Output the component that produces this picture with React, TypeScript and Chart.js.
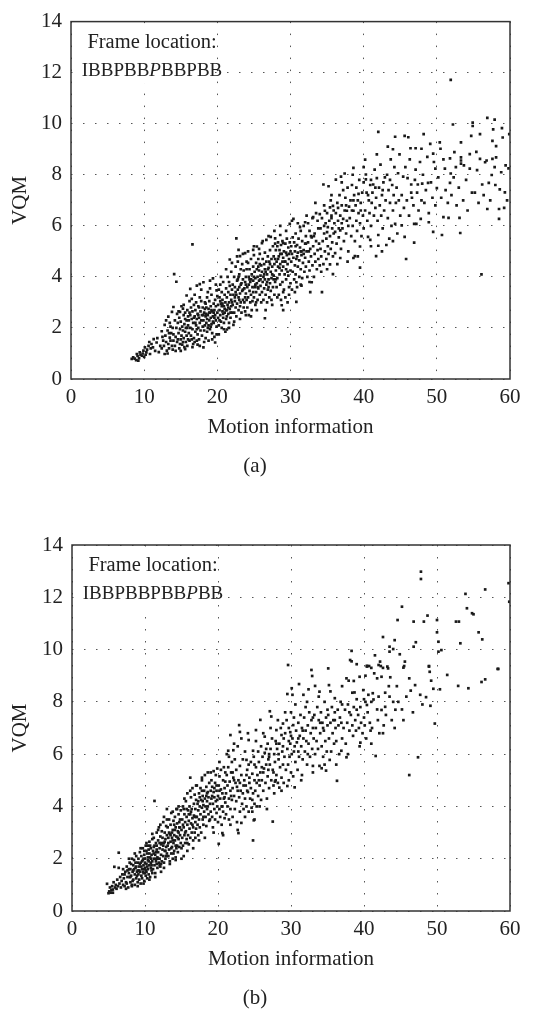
import React, { useEffect, useRef } from "react";
import { Chart, registerables } from "chart.js";

Chart.register(...registerables);

// ---------- text ----------
const xTicks = [0, 10, 20, 30, 40, 50, 60];
const yTicks = [0, 2, 4, 6, 8, 10, 12, 14];
const xTitle = "Motion information";
const yTitle = "VQM";
const boxTitle = "Frame location:";
const frameSeqA = ["IBBPBB", "P", "BBPBB"]; // middle part italic
const frameSeqB = ["IBBPBBPBB", "P", "BB"];
const captionA = "(a)";
const captionB = "(b)";

// ---------- panel (a) points: [motion, VQM] ----------
const aLowMotion: [number, number][] = [
  [8.3,0.79],[8.5,0.85],[9.0,0.98],[9.2,0.72],[9.4,1.04],[9.7,0.91],[9.9,1.11],[10.1,1.24],[10.3,1.04],[10.6,1.3],[10.8,0.98],[11.0,1.37],[11.2,1.24],[11.3,1.56],[11.7,1.43],[12.2,1.3],
  [8.7,0.8],[9.1,0.9],[9.5,0.95],[9.8,1.0],[10.0,0.87],[10.4,1.15],[10.9,1.2],[11.5,1.1],[12.0,1.05],[8.9,0.74],[9.3,0.82],[10.2,0.95],[10.7,1.45],[11.8,1.6],[12.4,1.2],
  [12.8,0.98],[13.1,1.11],[13.3,1.37],[13.8,1.3],[14.0,1.5],[12.4,1.87],[12.8,2.12],[13.3,2.44],[13.8,2.63],[14.0,2.82],
  [12.6,1.5],[12.9,1.7],[13.0,1.45],[13.2,1.9],[13.4,1.2],[13.5,1.62],[13.6,2.05],[13.7,1.8],[13.9,1.15],[13.0,2.3],[12.7,1.3],[13.5,2.2],[13.9,2.0],[12.5,1.65],[13.2,1.0],[13.6,1.5],[14.0,1.75],[13.4,1.8],
  [14.9,2.63],[15.3,2.76],[15.6,1.17],[14.9,1.37],[14.1,4.11],[14.4,3.81],
  [14.2,1.3],[14.3,1.65],[14.4,2.0],[14.5,1.45],[14.6,2.2],[14.7,1.8],[14.8,1.2],[14.8,2.4],[14.9,1.95],[15.0,1.55],[15.0,2.25],[15.1,1.7],[15.2,2.05],[15.2,1.35],[15.3,1.9],[15.4,2.5],[15.4,1.6],[15.5,2.15],[15.6,1.85],[15.6,2.6],[15.7,1.45],[15.8,2.3],[15.8,1.7],[15.9,2.0],[16.0,2.45],[16.0,1.55],[14.5,2.55],[14.3,1.1],[15.1,2.85],[15.5,1.25],[15.9,2.7],[14.6,1.55],[15.7,2.0],[15.3,1.45],
  [15.8,3.27],[16.3,3.53],[16.5,3.14],[17.2,3.66],[17.6,3.72],[16.7,1.37],[17.6,1.3],[18.1,1.24],[17.2,1.5],[16.6,5.27],
  [16.1,1.8],[16.1,2.3],[16.2,2.6],[16.2,1.5],[16.3,2.0],[16.4,2.8],[16.4,1.7],[16.5,2.35],[16.6,1.95],[16.6,2.65],[16.7,2.2],[16.8,1.6],[16.8,2.9],[16.9,2.45],[17.0,1.85],[17.0,2.7],[17.1,2.1],[17.1,3.0],[17.2,2.35],[17.3,1.75],[17.3,2.55],[17.4,2.0],[17.4,2.85],[17.5,1.55],[17.5,2.4],[17.6,2.2],[17.7,2.65],[17.7,1.9],[17.8,3.05],[17.8,2.3],[17.9,1.7],[17.9,2.5],[18.0,2.8],[18.0,2.05],[16.9,1.45],[16.3,2.5],[17.6,3.2],[17.0,2.2],[16.5,1.55],[17.4,2.5],
  [18.1,3.79],[19.0,3.85],[19.4,3.94],[19.9,3.47],[19.7,1.43],[19.9,1.75],
  [18.1,2.3],[18.2,1.9],[18.2,2.6],[18.3,2.1],[18.3,3.0],[18.4,1.6],[18.4,2.45],[18.5,2.8],[18.5,2.2],[18.6,1.85],[18.6,3.2],[18.7,2.5],[18.7,2.0],[18.8,2.75],[18.8,1.5],[18.9,2.3],[18.9,3.05],[19.0,2.6],[19.0,1.95],[19.1,2.4],[19.1,2.85],[19.2,2.15],[19.2,3.3],[19.3,2.65],[19.3,1.8],[19.4,2.45],[19.5,2.95],[19.5,2.2],[19.6,2.7],[19.6,1.65],[19.7,2.5],[19.7,3.1],[19.8,2.3],[19.8,2.85],[19.9,2.05],[20.0,2.6],[20.0,3.25],[18.5,2.55],[19.2,2.7],[18.9,2.6],[19.6,2.4],[18.3,2.75],[19.4,2.25],[18.7,3.4],
  [14.2,2.3],[14.7,2.65],[15.0,1.1],[15.4,2.9],[15.9,1.3],[16.2,3.05],[16.6,1.25],[16.9,3.3],[17.3,1.35],[17.8,3.5],[18.2,1.45],[18.6,2.35],[19.0,3.55],[19.3,1.55],[19.8,3.7],[16.0,2.1],[16.8,2.4],[17.5,2.8],[18.1,2.5],[18.8,2.1],[19.5,2.6],[17.2,1.95],[15.6,2.35],[18.4,2.95],[19.1,2.05],
];

const aMidMotion: [number, number][] = [
  [21.3,1.94],[21.7,4.68],[20.1,2.4],[20.1,2.9],[20.2,3.5],[20.2,2.1],[20.3,2.7],[20.3,3.2],[20.4,2.5],[20.4,3.7],[20.5,2.25],[20.5,2.95],[20.6,3.4],[20.6,2.0],[20.7,2.65],[20.7,3.1],[20.8,2.4],[20.8,3.8],[20.9,2.85],[20.9,2.2],[21.0,3.3],[21.0,2.6],[21.1,3.0],[21.1,1.85],[21.2,2.7],[21.2,3.55],[21.3,2.45],[21.3,3.2],[21.4,2.9],[21.4,4.0],[21.5,2.55],[21.5,3.4],[21.6,2.2],[21.6,3.0],[21.7,2.75],[21.7,3.65],[21.8,2.4],[21.8,3.3],[21.9,2.85],[21.9,4.2],[22.0,2.6],[22.0,3.5],[20.3,2.3],[21.0,2.75],[21.5,2.8],[20.8,2.55],[21.8,2.6],[20.6,2.85],[21.2,2.35],[22.0,3.0],
  [22.2,2.12],[22.9,5.06],[23.1,4.81],[23.8,4.93],[22.6,5.51],
  [22.1,2.9],[22.1,3.7],[22.2,3.3],[22.3,2.6],[22.3,4.0],[22.4,3.05],[22.4,3.6],[22.5,2.8],[22.5,4.4],[22.6,3.3],[22.6,2.45],[22.7,3.85],[22.7,2.95],[22.8,3.5],[22.8,4.6],[22.9,2.7],[22.9,3.2],[23.0,4.1],[23.0,3.6],[23.1,2.85],[23.1,3.35],[23.2,4.3],[23.2,3.0],[23.3,3.75],[23.3,2.6],[23.4,3.45],[23.4,4.5],[23.5,3.1],[23.5,3.9],[23.6,2.8],[23.6,4.25],[23.7,3.55],[23.7,3.0],[23.8,3.8],[23.8,2.65],[23.9,4.0],[23.9,3.35],[24.0,4.6],[24.0,3.1],[22.4,3.2],[23.0,3.1],[23.5,3.5],[22.8,3.9],[23.9,3.7],
  [24.2,4.55],[24.9,5.06],[25.4,5.19],[24.1,2.8],[24.1,3.6],[24.2,3.2],[24.3,4.0],[24.3,2.5],[24.4,3.45],[24.4,4.3],[24.5,3.0],[24.5,3.8],[24.6,4.7],[24.6,3.3],[24.7,2.7],[24.7,4.1],[24.8,3.6],[24.8,3.05],[24.9,4.4],[24.9,3.85],[25.0,3.2],[25.0,4.85],[25.1,3.6],[25.1,4.2],[25.2,2.9],[25.2,3.95],[25.3,4.55],[25.3,3.4],[25.4,3.75],[25.4,4.3],[25.5,3.1],[25.5,4.0],[25.6,4.7],[25.6,3.55],[25.7,3.85],[25.7,4.25],[25.8,3.3],[25.8,4.9],[25.9,4.05],[25.9,3.65],[26.0,4.45],[26.0,3.0],[24.6,3.9],[25.2,3.7],[25.8,4.5],[24.9,3.4],[25.5,3.6],[25.9,3.9],[24.3,3.7],
  [26.1,5.32],[26.7,5.45],[27.3,5.57],[27.9,5.51],[26.5,2.38],
  [26.1,3.4],[26.1,4.2],[26.2,3.8],[26.2,4.7],[26.3,3.1],[26.3,4.0],[26.4,4.5],[26.4,3.55],[26.5,3.9],[26.5,4.95],[26.6,4.2],[26.6,3.3],[26.7,3.7],[26.7,4.6],[26.8,3.0],[26.8,4.1],[26.9,3.5],[26.9,4.8],[27.0,3.9],[27.0,4.35],[27.1,3.2],[27.1,4.6],[27.2,3.75],[27.2,5.05],[27.3,4.2],[27.3,3.45],[27.4,3.95],[27.4,4.7],[27.5,2.9],[27.5,4.4],[27.6,3.6],[27.6,5.2],[27.7,4.05],[27.7,4.8],[27.8,3.3],[27.8,4.5],[27.9,5.3],[27.9,3.8],[28.0,4.25],[28.0,5.05],[26.4,4.1],[27.0,3.6],[27.5,4.1],[26.9,4.3],[27.7,3.9],
  [28.6,5.64],[29.0,5.32],[29.9,6.08],[28.8,2.89],[29.0,2.7],
  [28.1,3.6],[28.1,4.6],[28.2,5.2],[28.2,3.95],[28.3,4.4],[28.3,5.35],[28.4,3.3],[28.4,4.8],[28.5,4.1],[28.5,5.05],[28.6,3.7],[28.6,4.5],[28.7,5.25],[28.7,3.1],[28.8,4.25],[28.8,4.9],[28.9,3.8],[28.9,5.4],[29.0,4.4],[29.0,4.75],[29.1,3.5],[29.1,5.0],[29.2,4.1],[29.2,4.6],[29.3,3.2],[29.3,5.3],[29.4,4.3],[29.4,3.9],[29.5,4.85],[29.5,5.5],[29.6,3.0],[29.6,4.5],[29.7,4.05],[29.7,5.15],[29.8,3.6],[29.8,4.7],[29.9,5.35],[30.0,4.25],[30.0,3.75],[28.3,4.7],[28.9,4.6],[29.4,4.95],[28.5,4.35],[29.8,4.9],
  [30.4,6.27],[31.3,5.95],[32.0,6.14],[30.8,3.79],[31.5,3.66],[30.8,3.02],
  [30.1,4.6],[30.1,5.2],[30.2,3.5],[30.2,4.9],[30.3,5.55],[30.3,4.2],[30.4,4.75],[30.5,3.9],[30.5,5.35],[30.6,4.45],[30.6,5.0],[30.7,5.7],[30.7,4.1],[30.8,4.7],[30.9,5.25],[30.9,3.6],[31.0,4.95],[31.0,4.4],[31.1,5.5],[31.2,4.0],[31.2,4.65],[31.3,5.15],[31.4,4.3],[31.4,5.8],[31.5,4.85],[31.6,5.4],[31.6,3.95],[31.7,4.55],[31.8,5.05],[31.8,6.0],[31.9,4.2],[32.0,5.3],[32.0,4.75],[30.9,4.8],[31.5,5.0],
  [32.9,3.79],[32.7,3.4],[33.1,6.34],[34.0,6.46],[34.3,3.4],
  [32.1,4.4],[32.1,5.6],[32.2,5.0],[32.3,4.0],[32.4,5.35],[32.4,6.1],[32.5,4.6],[32.6,5.8],[32.6,4.25],[32.7,5.1],[32.8,4.8],[32.9,5.55],[33.0,4.45],[33.0,6.3],[33.1,5.2],[33.2,4.0],[33.3,4.9],[33.3,5.7],[33.4,4.6],[33.5,5.4],[33.5,6.5],[33.6,4.3],[33.7,5.05],[33.8,5.9],[33.8,4.7],[33.9,5.3],[34.0,4.45],[32.5,5.0],[33.2,5.6],[33.7,6.2],
  [34.7,6.59],[35.4,6.72],[35.8,6.78],[34.5,7.62],[35.2,7.55],[35.4,4.49],[35.8,4.11],
  [34.1,5.1],[34.1,5.9],[34.2,4.8],[34.3,6.3],[34.4,5.4],[34.5,4.5],[34.6,5.7],[34.6,6.8],[34.7,5.0],[34.8,6.1],[34.9,4.7],[34.9,5.5],[35.0,6.5],[35.1,5.2],[35.1,5.95],[35.2,4.9],[35.3,6.2],[35.4,5.6],[35.5,7.0],[35.5,5.1],[35.6,6.4],[35.7,5.35],[35.7,5.9],[35.8,4.8],[35.9,6.6],[35.9,5.7],[36.0,6.1],[35.0,5.75],
  [20.2,1.75],[20.5,4.0],[20.9,1.95],[21.2,4.3],[21.6,2.0],[22.0,4.55],[22.3,2.25],[22.7,4.8],[23.1,2.35],[23.5,4.9],[23.9,2.5],[24.2,5.0],[24.6,2.45],[25.0,5.2],[25.4,2.7],[25.7,5.1],[20.7,2.95],[21.3,2.7],[21.9,3.1],[22.5,3.4],[23.2,3.7],[23.8,3.2],[24.4,3.9],[25.0,4.0],[25.6,4.4],[24.0,4.3],[22.9,4.0],[21.6,3.8],[20.4,3.05],[25.3,3.0],
  [26.2,5.4],[26.6,2.7],[27.0,5.6],[27.4,3.1],[27.8,5.8],[28.2,3.2],[28.6,6.0],[29.0,3.4],[29.4,5.8],[29.8,3.3],[30.2,6.2],[30.6,3.4],[31.0,6.1],[31.4,3.7],[31.8,4.9],[32.2,6.4],[32.6,3.8],[26.5,4.3],[27.2,4.5],[27.9,4.7],[28.6,4.9],[29.3,4.6],[30.0,5.0],[30.7,5.2],[31.4,5.0],[32.1,5.3],[32.8,5.6],[26.8,3.8],[28.0,3.9],[29.6,4.2],
  [33.4,6.9],[34.2,4.2],[35.0,4.3],[35.6,7.2],[34.6,6.0],[35.6,6.3],
];

const aHighMotion: [number, number][] = [
  [36.1,5.76],[36.8,5.82],[37.2,6.27],[37.7,6.59],[36.8,4.74],[36.1,4.93],[37.9,5.0],[36.2,7.81],[37.4,8.05],[36.9,7.93],
  [36.2,6.5],[36.3,5.3],[36.4,6.9],[36.5,6.2],[36.6,5.55],[36.7,7.2],[36.8,6.4],[36.9,5.1],[37.0,6.8],[37.1,5.9],[37.2,7.4],[37.3,5.4],[37.4,6.6],[37.5,7.1],[37.6,5.7],[37.7,6.2],[37.8,7.5],[37.9,6.0],[38.0,6.75],[37.0,6.1],[36.5,6.7],
  [38.6,6.59],[38.6,4.74],[38.8,4.81],[39.5,5.19],[39.5,4.36],[38.6,8.27],[40.2,8.59],
  [38.1,6.3],[38.2,7.0],[38.3,5.6],[38.4,7.6],[38.5,6.0],[38.7,7.2],[38.8,5.4],[38.9,6.8],[39.0,7.5],[39.0,6.2],[39.1,5.8],[39.2,7.0],[39.3,6.5],[39.4,7.8],[39.5,6.1],[39.6,6.9],[39.7,5.6],[39.8,7.3],[39.9,6.4],[40.0,7.7],[40.0,5.9],[38.4,6.6],[39.3,7.25],
  [40.6,5.57],[40.9,5.45],[41.7,4.81],[42.0,5.22],[42.0,5.64],[43.1,5.25],[44.3,6.08],[45.2,6.02],[42.0,9.68],[44.3,9.49],
  [40.3,8.01],[40.3,7.82],[41.8,7.87],[41.3,7.62],[44.7,8.06],
  [40.2,6.6],[40.4,7.3],[40.5,6.2],[40.7,7.0],[40.8,6.5],[40.9,7.6],[41.0,6.0],[41.1,6.9],[41.2,7.3],[41.4,6.4],[41.5,8.2],[41.6,6.7],[41.7,7.1],[41.9,6.2],[42.1,7.5],[42.2,6.8],[42.3,8.4],[42.4,6.4],[42.5,7.2],[42.6,5.9],[42.7,7.7],[42.8,6.6],[43.0,7.0],[43.2,8.0],[43.3,6.3],[43.4,7.4],[43.6,6.9],[43.7,8.6],[43.8,6.0],[43.9,7.6],[44.0,6.6],[44.1,7.2],[44.2,8.3],[44.4,6.9],[44.5,7.5],[44.6,5.7],[44.8,7.0],[44.9,8.8],[45.0,6.4],[41.0,7.8],[42.9,7.9],[43.5,5.5],[44.0,9.0],
  [45.6,9.52],[46.1,9.47],[48.2,9.59],[46.4,9.04],[47.1,9.04],[47.9,9.02],[49.1,9.21],[49.5,8.83],[45.4,7.93],[46.0,7.87],[47.0,7.8],[46.5,7.62],[47.4,7.62],[48.8,7.68],[49.8,8.24],[45.6,5.57],[46.9,6.08],[47.2,6.08],[47.8,6.27],[46.9,5.34],[48.9,6.14],[49.5,5.76],[45.8,4.7],
  [45.2,7.2],[45.5,6.7],[45.7,8.3],[45.9,7.0],[46.2,6.4],[46.3,8.6],[46.6,7.1],[46.8,6.8],[47.1,8.2],[47.3,7.3],[47.5,6.6],[47.7,8.5],[47.9,7.0],[48.1,8.0],[48.3,6.9],[48.5,7.4],[48.7,8.7],[48.9,6.5],[49.2,7.7],[49.4,7.1],[49.6,8.5],[49.8,6.8],[50.0,7.48],[48.0,7.65],[46.5,7.3],
  [50.4,9.27],[50.5,9.02],[51.9,11.72],[52.2,9.97],[52.4,8.89],[53.3,9.27],[54.9,10.04],[54.9,9.91],[54.7,9.52],[51.8,8.64],[53.3,8.68],[54.5,8.81],[51.1,8.24],[53.3,8.44],[54.5,8.24],[51.9,8.05],[51.8,7.68],[53.3,8.56],[53.7,8.37],[53.1,6.31],[53.2,5.72],[50.9,6.34],[51.6,6.31],[50.7,5.64],
  [50.2,7.9],[50.6,7.1],[50.9,8.6],[51.2,7.4],[51.5,6.9],[52.0,7.2],[52.3,7.9],[52.7,6.8],[53.0,7.5],[53.6,7.0],[54.0,7.8],[54.2,6.6],[54.8,7.3],[52.6,8.3],
  [55.5,8.18],[55.9,9.59],[56.9,10.23],[57.9,10.16],[57.7,9.78],[57.6,9.33],[58.9,9.83],[59.9,9.59],[59.0,9.46],[55.9,8.62],[56.6,8.49],[58.1,9.12],[58.1,8.68],[59.4,8.37],[56.8,8.56],[57.6,8.62],[57.5,7.99],[57.1,7.68],[56.2,7.62],[58.6,7.43],[59.3,7.31],[58.5,6.27],[58.5,6.66],[56.9,6.66],[56.1,4.1],
  [55.2,7.3],[55.7,6.9],[56.4,7.2],[57.3,7.0],[58.0,7.6],[58.8,8.1],[59.6,7.0],[59.8,8.25],[55.4,8.9],[57.9,8.3],[59.2,6.7],
  [36.4,4.5],[37.0,7.7],[37.8,4.6],[38.5,8.0],[39.2,4.8],[40.0,8.3],[41.0,5.2],[41.8,8.8],[42.5,5.0],[43.3,9.1],[44.0,5.4],[36.6,5.9],[37.6,6.8],[38.6,7.0],[39.6,6.6],[40.6,7.2],[41.6,7.5],[42.6,7.4],[43.6,7.8],
];

// ---------- panel (b) points: [motion, VQM] ----------
const bLowMotion: [number, number][] = [
  [4.8,1.04],[5.0,0.68],[5.4,0.8],[5.8,1.69],[6.4,2.23],
  [5.1,0.75],[5.2,0.9],[5.3,0.7],[5.5,0.95],[5.6,0.82],[5.7,1.1],[5.9,0.9],[6.0,1.0],[6.1,0.85],[6.2,1.2],[6.3,0.95],[6.5,1.05],[6.6,1.3],[6.7,0.9],[6.8,1.15],[6.9,1.4],[7.0,1.0],[6.4,1.65],[5.6,0.7],
  [7.1,1.25],[7.2,0.95],[7.3,1.5],[7.4,1.1],[7.5,1.7],[7.6,1.3],[7.7,0.9],[7.8,1.45],[7.9,1.85],[8.0,1.1],[8.0,1.6],[8.1,1.35],[8.2,2.0],[8.2,0.95],[8.3,1.5],[8.4,1.75],[8.4,1.2],[8.5,1.95],[8.6,1.4],[8.6,1.0],[8.7,1.65],[8.8,2.1],[8.8,1.25],[8.9,1.5],[9.0,1.85],[9.0,1.1],[7.5,1.05],[7.9,1.3],[8.3,1.15],[8.7,1.85],[8.9,1.35],[7.2,1.4],[7.8,1.6],[8.5,1.6],[9.0,1.55],[8.1,1.8],[7.6,1.55],
  [9.1,1.4],[9.1,2.0],[9.2,1.2],[9.2,1.7],[9.3,2.25],[9.3,1.5],[9.4,1.05],[9.4,1.85],[9.5,1.35],[9.5,2.1],[9.6,1.6],[9.6,1.25],[9.7,1.95],[9.7,2.4],[9.8,1.45],[9.8,1.75],[9.9,2.15],[9.9,1.15],[10.0,1.65],[10.0,2.0],[10.1,1.35],[10.1,2.5],[10.2,1.8],[10.2,1.5],[10.3,2.2],[10.3,1.25],[10.4,1.95],[10.4,1.6],[10.5,2.35],[10.5,1.4],[10.6,1.75],[10.6,2.65],[10.7,2.05],[10.7,1.3],[10.8,1.85],[10.8,2.4],[10.9,1.55],[10.9,2.15],[11.0,1.9],[11.0,2.75],[9.5,1.7],[10.0,1.85],[10.5,1.9],[9.8,2.0],[10.3,1.7],[10.8,2.0],[9.3,1.8],[10.1,1.55],[10.6,2.2],[9.7,1.5],[10.9,1.75],[10.2,2.3],[9.9,1.6],[10.4,2.5],[11.0,1.45],
  [11.3,4.21],[11.1,1.6],[11.1,2.3],[11.2,2.0],[11.2,2.8],[11.3,1.75],[11.3,2.5],[11.4,2.15],[11.4,1.45],[11.5,2.6],[11.5,1.9],[11.6,2.35],[11.6,3.0],[11.7,2.05],[11.7,1.65],[11.8,2.7],[11.8,2.25],[11.9,1.85],[11.9,3.2],[12.0,2.4],[12.0,2.0],[12.1,2.85],[12.1,1.7],[12.2,2.55],[12.2,2.15],[12.3,3.05],[12.3,1.9],[12.4,2.35],[12.4,2.8],[12.5,2.1],[12.5,3.4],[12.6,2.6],[12.6,1.85],[12.7,2.3],[12.7,3.0],[12.8,2.75],[12.8,2.0],[12.9,2.45],[12.9,3.25],[13.0,2.2],[13.0,2.9],[11.5,2.25],[12.0,2.6],[12.5,2.5],[11.8,2.0],[12.2,1.8],[12.7,2.65],[11.2,2.45],[12.9,2.1],[12.3,2.6],[11.6,1.8],[12.6,3.6],[13.0,3.9],[12.1,3.3],
  [13.1,2.5],[13.1,3.2],[13.2,2.1],[13.2,2.8],[13.3,3.5],[13.3,2.35],[13.4,2.95],[13.4,1.9],[13.5,2.65],[13.5,3.3],[13.6,2.2],[13.6,3.75],[13.7,2.8],[13.7,2.45],[13.8,3.1],[13.8,2.0],[13.9,3.45],[13.9,2.6],[14.0,2.9],[14.0,2.3],[14.1,3.6],[14.1,2.7],[14.2,3.2],[14.2,2.05],[14.3,2.85],[14.3,3.9],[14.4,2.5],[14.4,3.35],[14.5,3.05],[14.5,2.25],[14.6,3.7],[14.6,2.75],[14.7,3.2],[14.7,2.45],[14.8,3.5],[14.8,2.9],[14.9,2.6],[14.9,3.85],[15.0,3.1],[15.0,2.4],[13.5,2.9],[14.0,3.3],[14.5,2.8],[13.8,2.7],[14.2,2.5],[14.8,3.2],[13.3,3.0],[14.6,3.0],[13.9,2.2],[14.4,3.9],
  [7.0,1.6],[7.4,0.85],[7.8,2.0],[8.2,1.0],[8.6,2.2],[9.0,0.95],[9.4,2.4],[9.8,1.05],[10.2,2.6],[10.6,1.2],[11.0,2.95],[11.4,1.3],[11.8,3.1],[12.2,1.5],[9.2,1.55],[9.6,1.9],[10.0,1.45],[10.4,2.05],[10.8,1.65],[11.2,2.2],[11.6,2.5],[12.0,1.75],[8.0,1.3],[8.4,1.55],[8.8,1.7],[9.9,2.3],[10.7,2.5],[11.5,2.0],
  [12.6,1.65],[13.0,3.5],[13.4,1.8],[13.8,3.8],[14.2,1.95],[14.6,4.0],[13.2,2.6],[13.7,3.0],[14.1,3.1],[14.7,3.4],[12.8,2.3],[13.6,2.4],[14.3,2.4],
];

const bMidMotion: [number, number][] = [
  [15.1,2.8],[15.1,3.5],[15.2,4.0],[15.2,2.5],[15.3,3.2],[15.3,2.1],[15.4,3.7],[15.4,2.9],[15.5,3.4],[15.5,2.6],[15.6,4.2],[15.6,3.05],[15.7,2.75],[15.7,3.6],[15.8,3.3],[15.8,4.5],[15.9,2.9],[15.9,3.85],[16.0,3.45],[16.0,2.55],[16.1,4.0],[16.1,3.15],[16.2,3.7],[16.2,2.8],[16.3,4.35],[16.3,3.35],[16.4,3.0],[16.4,3.9],[16.5,3.55],[16.5,4.7],[16.6,3.2],[16.6,2.7],[16.7,4.1],[16.7,3.65],[16.8,3.0],[16.8,4.45],[16.9,3.4],[16.9,3.9],[17.0,3.15],[17.0,4.25],[15.5,3.0],[16.0,3.7],[16.5,3.3],[16.9,2.8],[15.8,2.6],[16.2,5.1],[17.0,3.6],[15.3,3.9],
  [17.1,3.6],[17.1,4.8],[17.2,3.3],[17.2,4.1],[17.3,2.9],[17.3,3.85],[17.4,4.5],[17.4,3.5],[17.5,4.0],[17.5,3.2],[17.6,4.7],[17.6,3.7],[17.7,4.25],[17.7,3.0],[17.8,3.95],[17.8,5.0],[17.9,3.5],[17.9,4.4],[18.0,4.05],[18.0,3.3],[18.1,4.6],[18.1,3.8],[18.2,4.3],[18.2,5.2],[18.3,3.6],[18.3,4.0],[18.4,4.75],[18.4,3.25],[18.5,4.2],[18.5,3.9],[18.6,4.55],[18.6,5.3],[18.7,3.7],[18.7,4.35],[18.8,4.9],[18.8,3.45],[18.9,4.1],[19.0,4.6],[19.0,3.8],[17.5,4.35],[18.0,3.6],[18.5,4.5],[17.8,4.6],[18.9,3.5],
  [20.1,2.57],[20.6,2.98],[19.1,4.3],[19.1,5.0],[19.2,3.6],[19.2,4.75],[19.3,4.1],[19.3,3.2],[19.4,4.55],[19.4,5.35],[19.5,3.9],[19.5,4.35],[19.6,3.5],[19.6,4.9],[19.7,4.2],[19.7,5.2],[19.8,3.75],[19.8,4.6],[19.9,4.0],[19.9,5.45],[20.0,4.4],[20.0,3.4],[20.1,4.8],[20.2,3.9],[20.2,5.15],[20.3,4.3],[20.3,3.6],[20.4,4.65],[20.4,5.4],[20.5,4.0],[20.5,3.3],[20.6,4.5],[20.7,5.0],[20.7,3.8],[20.8,4.3],[20.8,5.5],[20.9,4.7],[20.9,3.55],[21.0,4.15],[21.0,4.95],[19.5,4.7],[20.2,4.6],[20.6,4.0],[19.9,4.25],[20.9,4.35],
  [21.7,6.73],[22.9,7.11],[23.0,6.85],[22.1,6.15],[21.4,6.13],[22.8,2.98],
  [21.1,4.5],[21.1,3.7],[21.2,5.2],[21.3,4.0],[21.3,4.8],[21.4,5.5],[21.5,4.3],[21.5,3.5],[21.6,4.95],[21.7,4.6],[21.7,3.9],[21.8,5.3],[21.9,4.25],[21.9,5.7],[22.0,4.7],[22.0,3.6],[22.1,5.1],[22.2,4.4],[22.3,5.8],[22.3,3.9],[22.4,4.9],[22.5,4.2],[22.5,5.4],[22.6,3.4],[22.7,4.6],[22.7,6.3],[22.8,5.0],[22.9,4.35],[23.0,5.55],[23.0,3.8],[21.5,5.9],[22.2,5.0],[22.6,4.75],[21.8,4.4],
  [24.2,6.54],[23.9,5.78],[24.8,6.13],[24.8,2.7],[24.9,3.47],[23.2,3.37],
  [23.1,4.6],[23.2,5.2],[23.3,4.1],[23.4,5.8],[23.4,4.5],[23.5,3.9],[23.6,5.0],[23.7,4.3],[23.7,6.1],[23.8,4.8],[23.9,4.0],[24.0,5.4],[24.1,4.55],[24.1,6.8],[24.2,3.8],[24.3,5.1],[24.4,4.3],[24.5,5.7],[24.5,4.7],[24.6,3.95],[24.7,5.25],[24.8,4.5],[24.9,5.9],[25.0,4.1],[25.0,5.0],[23.5,4.8],[24.3,4.9],[23.9,5.2],[24.7,4.25],[25.0,3.5],
  [25.2,6.92],[25.8,7.31],[26.4,6.67],[27.1,7.64],[27.3,7.44],
  [25.1,4.6],[25.2,5.5],[25.3,4.0],[25.4,5.2],[25.5,6.1],[25.5,4.4],[25.6,5.7],[25.7,4.8],[25.8,5.3],[25.9,6.3],[25.9,4.25],[26.0,5.0],[26.1,5.9],[26.2,4.6],[26.3,5.45],[26.4,6.05],[26.5,4.9],[26.6,5.6],[26.7,4.3],[26.8,6.4],[26.8,5.15],[26.9,5.8],[27.0,4.7],[27.0,6.0],[25.6,5.0],[26.2,5.3],[26.6,6.2],[25.3,4.9],[26.9,5.4],
  [27.5,3.42],[27.8,4.95],[28.4,4.72],[28.0,6.92],[28.9,7.17],[28.7,6.73],
  [27.1,5.6],[27.2,6.2],[27.3,5.0],[27.4,6.6],[27.5,5.4],[27.6,4.8],[27.7,6.0],[27.8,5.7],[27.9,6.5],[28.0,5.2],[28.1,6.2],[28.2,4.9],[28.3,5.8],[28.4,6.4],[28.5,5.5],[28.6,7.0],[28.7,5.1],[28.8,6.1],[28.9,5.6],[29.0,6.6],[29.0,4.9],[27.6,5.3],[28.3,6.0],[28.9,6.3],[27.9,5.0],
  [15.0,2.0],[15.4,4.3],[15.8,2.3],[16.2,4.6],[16.6,2.4],[17.0,4.8],[17.4,2.7],[17.8,5.1],[18.2,2.8],[18.6,4.0],[19.0,5.3],[19.4,3.0],[19.8,4.8],[15.2,3.3],[15.7,3.9],[16.3,3.8],[16.8,3.6],[17.3,4.2],[17.9,4.2],[18.4,4.4],[19.2,4.4],
  [20.2,5.7],[20.7,2.9],[21.2,6.0],[21.7,3.3],[22.2,6.4],[22.7,3.1],[23.2,6.6],[23.7,3.6],[24.2,5.6],[24.7,3.8],[25.2,6.5],[25.7,4.0],[26.2,6.8],[26.7,3.9],[27.2,7.0],[27.7,4.5],[28.2,7.3],[28.7,4.6],[21.0,5.3],[22.0,5.3],[23.0,4.9],[24.0,4.6],[25.0,5.6],[26.0,5.5],[27.0,5.9],[28.0,6.4],
];

const bHighMotion: [number, number][] = [
  [29.6,9.41],[29.5,8.3],[30.1,8.52],[30.2,8.27],[31.1,8.68],[29.5,4.78],[30.5,4.73],[29.9,6.84],[30.3,7.11],
  [29.1,5.9],[29.2,6.8],[29.3,5.4],[29.4,7.3],[29.5,6.2],[29.6,5.6],[29.7,7.0],[29.8,5.9],[29.9,6.4],[30.0,7.6],[30.0,5.3],[30.1,6.0],[30.2,6.6],[30.3,5.15],[30.4,7.4],[30.5,6.3],[30.6,5.7],[30.7,6.9],[30.8,6.45],[30.9,5.4],[31.0,7.2],[31.0,6.1],[29.7,6.5],[30.4,6.1],
  [31.7,8.27],[32.4,8.48],[32.8,9.22],[32.9,8.99],[31.5,5.2],[33.0,5.55],
  [31.1,5.9],[31.2,6.7],[31.3,7.5],[31.4,6.3],[31.5,7.0],[31.6,5.8],[31.7,6.6],[31.8,7.4],[31.9,6.1],[32.0,7.8],[32.1,6.5],[32.2,5.6],[32.3,7.1],[32.4,6.4],[32.5,7.6],[32.6,5.9],[32.7,6.8],[32.8,7.3],[32.9,6.2],[33.0,7.0],[31.6,6.9],[32.3,6.0],
  [33.3,8.61],[33.9,8.39],[33.9,5.55],[34.2,5.46],[34.8,5.37],
  [33.1,6.6],[33.2,7.5],[33.3,6.0],[33.4,7.0],[33.5,6.5],[33.6,7.8],[33.7,6.2],[33.8,7.3],[34.0,6.8],[34.1,7.6],[34.2,6.3],[34.3,7.2],[34.4,5.9],[34.5,6.9],[34.6,8.0],[34.7,6.5],[34.8,7.4],[34.9,6.1],[35.0,7.1],[34.4,7.0],
  [35.1,9.28],[35.2,8.64],[36.0,8.14],[35.3,5.78],[36.3,4.98],[36.9,6.13],
  [35.1,7.5],[35.2,6.6],[35.4,7.2],[35.5,6.1],[35.6,7.8],[35.7,6.8],[35.8,7.3],[35.9,6.4],[36.0,7.6],[36.1,7.0],[36.2,6.5],[36.4,7.7],[36.5,7.1],[36.6,6.0],[36.7,7.4],[36.8,8.0],[36.9,7.2],[37.0,6.6],
  [37.6,8.9],[37.9,8.81],[38.1,9.6],[38.4,8.35],[38.7,8.36],[37.6,5.88],[38.3,9.95],[38.3,9.55],[39.0,9.44],
  [37.2,7.0],[37.4,7.7],[37.5,6.4],[37.7,7.2],[37.8,7.9],[38.0,6.9],[38.2,7.5],[38.4,7.1],[38.5,6.7],[38.6,7.8],[38.8,7.3],[38.9,6.9],[39.0,8.1],
  [39.4,8.96],[40.4,9.35],[40.7,9.37],[39.9,8.45],[40.2,8.0],[40.4,7.88],[40.6,8.27],[39.5,6.44],[41.0,9.3],[40.4,9.38],
  [39.2,7.5],[39.3,7.0],[39.5,7.8],[39.6,7.2],[39.8,6.8],[40.0,7.4],[40.1,7.1],[40.3,6.6],[40.5,7.6],[40.8,7.2],[40.9,6.9],
  [41.4,9.09],[42.0,9.41],[42.4,8.96],[43.3,9.28],[43.6,8.94],[41.2,8.33],[41.3,8.09],[41.8,7.71],[42.4,7.69],[42.9,7.81],[42.9,8.35],[43.5,8.2],[44.0,8.0],[44.7,8.0],[41.6,5.93],[41.5,9.78],[42.2,9.54],[42.3,9.37],[42.6,9.3],[43.2,9.35],[42.6,10.48],[44.2,10.36],[43.5,10.11],[43.5,9.92],[44.0,10.02],[44.9,9.82],[45.2,11.64],[44.6,11.13],
  [41.9,7.3],[42.7,7.1],[43.0,7.5],[43.8,7.3],[44.3,7.7],[41.1,7.0],[42.1,6.8],[44.5,8.6],
  [45.2,7.71],[45.4,7.3],[45.5,9.37],[45.6,9.54],[46.2,8.9],[46.4,8.43],[47.0,8.64],[47.7,8.27],[48.5,8.18],[48.9,9.37],[49.0,9.15],[49.2,8.81],[49.1,7.85],[49.7,7.17],[47.4,5.88],[46.2,5.2],[45.4,9.31],[48.9,9.35],[47.8,12.98],[47.8,12.7],[46.8,11.07],[48.2,11.07],[48.7,11.3],[50.0,11.13],[47.1,10.28],[46.8,10.11],
  [45.8,8.2],[46.7,7.6],[48.0,7.9],[49.5,8.5],
  [50.4,8.48],[51.4,9.03],[52.9,8.61],[54.3,8.52],[56.1,8.76],[56.6,8.86],[58.4,9.26],[59.8,12.54],[59.9,11.83],[56.6,12.3],[53.9,12.13],[54.1,11.58],[54.8,11.39],[55.0,11.35],[52.6,11.07],[53.0,11.07],[55.7,10.66],[56.2,10.39],[53.2,10.24],[50.0,10.66],[50.2,10.3],[50.2,9.92],[50.6,9.98],[58.3,9.26],
  [29.2,7.6],[29.7,5.0],[30.0,6.7],[30.6,7.9],[31.4,5.0],[32.2,8.0],[33.0,5.3],[33.8,8.2],[34.6,5.6],[35.4,8.4],[36.2,5.6],[37.0,8.6],[37.8,6.0],[38.6,8.8],[39.4,6.3],[40.2,9.0],[41.0,6.4],[41.8,8.9],[42.6,6.8],[43.4,8.6],[44.2,7.0],[31.0,6.6],[32.0,6.9],[33.0,7.4],[34.0,7.2],[35.0,7.7],[36.0,7.3],[37.0,7.9],[38.0,7.6],[39.0,7.7],[40.0,8.1],[41.0,8.0],[42.0,8.2],
];

const pointsA = [...aLowMotion, ...aMidMotion, ...aHighMotion];
const pointsB = [...bLowMotion, ...bMidMotion, ...bHighMotion];

// ---------- styling ----------
const FONT = '"Liberation Serif", "Times New Roman", serif';
const TEXT = "#222222";
const LABEL_SIZE = 21;

const frameBoxPlugin = {
  id: "frameBox",
  afterDatasetsDraw(chart: any, _args: any, opts: any) {
    const { ctx, chartArea: ca } = chart;
    ctx.save();
    ctx.fillStyle = "#ffffff";
    ctx.fillRect(ca.left + 9, ca.top + 6, 135, 56);
    ctx.fillStyle = TEXT;
    ctx.textBaseline = "middle";
    ctx.textAlign = "left";
    const cx = ca.left + 81;
    ctx.font = `20.5px ${FONT}`;
    const w0 = ctx.measureText(opts.title).width;
    ctx.fillText(opts.title, cx - w0 / 2, ca.top + 21);
    const reg = `19px ${FONT}`;
    const ital = `italic 19px ${FONT}`;
    const [p1, p2, p3] = opts.seq;
    ctx.font = reg;
    const wa = ctx.measureText(p1).width;
    const wc = ctx.measureText(p3).width;
    ctx.font = ital;
    const wb = ctx.measureText(p2).width;
    let x = cx - (wa + wb + wc) / 2;
    const y = ca.top + 49;
    ctx.font = reg;
    ctx.fillText(p1, x, y);
    x += wa;
    ctx.font = ital;
    ctx.fillText(p2, x, y);
    x += wb;
    ctx.font = reg;
    ctx.fillText(p3, x, y);
    ctx.strokeStyle = "#333";
    ctx.lineWidth = 1.5;
    ctx.strokeRect(ca.left, ca.top, ca.right - ca.left, ca.bottom - ca.top);
    ctx.restore();
  },
};

function makeConfig(points: [number, number][], seq: string[], caption: string, padTop: number, padBottom: number, yWidth: number): any {
  return {
    type: "scatter",
    data: {
      datasets: [
        {
          data: points.map(([x, y]) => ({ x, y })),
          pointStyle: "rect",
          pointRadius: 1.9,
          pointBorderWidth: 0,
          backgroundColor: "#1a1a1a",
          borderColor: "#1a1a1a",
        },
      ],
    },
    options: {
      responsive: false,
      animation: false,
      events: [],
      layout: { padding: { top: padTop, bottom: padBottom, left: 0, right: 31 } },
      plugins: {
        legend: { display: false },
        tooltip: { enabled: false },
        title: {
          display: true,
          text: caption,
          position: "bottom",
          color: TEXT,
          font: { family: FONT, size: LABEL_SIZE, weight: "normal" },
          padding: { top: 14, bottom: 0 },
        },
        frameBox: { title: boxTitle, seq },
      },
      scales: {
        x: {
          type: "linear",
          min: xTicks[0],
          max: xTicks[xTicks.length - 1],
          afterBuildTicks: (s: any) => { s.ticks = xTicks.map((v) => ({ value: v })); },
          ticks: { color: TEXT, font: { family: FONT, size: LABEL_SIZE }, padding: 5.5, maxRotation: 0, autoSkip: false },
          grid: { color: "#555", lineWidth: 1, drawTicks: false },
          border: { display: false, dash: [1.5, 10.5] },
          title: { display: true, text: xTitle, color: TEXT, font: { family: FONT, size: LABEL_SIZE }, padding: { top: 4, bottom: 0 } },
          afterFit: (s: any) => { s.height = 61; },
        },
        y: {
          type: "linear",
          min: yTicks[0],
          max: yTicks[yTicks.length - 1],
          afterBuildTicks: (s: any) => { s.ticks = yTicks.map((v) => ({ value: v })); },
          ticks: { color: TEXT, font: { family: FONT, size: LABEL_SIZE }, padding: 9, autoSkip: false },
          grid: { color: "#555", lineWidth: 1, drawTicks: false },
          border: { display: false, dash: [1.5, 10.5] },
          title: { display: true, text: yTitle, color: TEXT, font: { family: FONT, size: LABEL_SIZE }, padding: { top: 8, bottom: 0 } },
          afterFit: (s: any) => { s.width = yWidth; },
        },
      },
    },
    plugins: [frameBoxPlugin],
  };
}

export default function App() {
  const refA = useRef<HTMLCanvasElement>(null);
  const refB = useRef<HTMLCanvasElement>(null);
  useEffect(() => {
    const a = new Chart(refA.current as HTMLCanvasElement, makeConfig(pointsA, frameSeqA, captionA, 13, 10.8, 71));
    const b = new Chart(refB.current as HTMLCanvasElement, makeConfig(pointsB, frameSeqB, captionB, 55, 0.8, 72));
    return () => {
      a.destroy();
      b.destroy();
    };
  }, []);
  return (
    <div style={{ position: "absolute", left: 0, top: 0, width: 541, height: 1012, background: "#fff" }}>
      <canvas ref={refA} width={541} height={490} style={{ display: "block", width: 541, height: 490 }} />
      <canvas ref={refB} width={541} height={522} style={{ display: "block", width: 541, height: 522 }} />
    </div>
  );
}
